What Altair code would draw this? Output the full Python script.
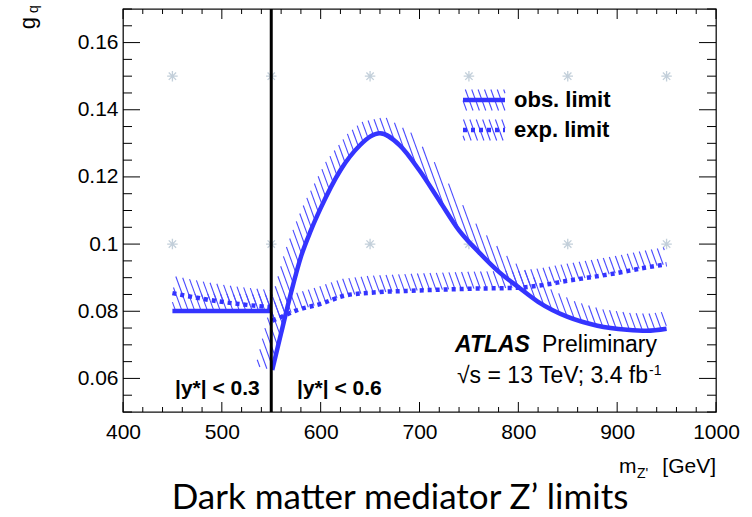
import numpy as np
import pandas as pd
import altair as alt

# ---------------- data ----------------
obs_a_mass = [450, 550]
obs_a_gq = [0.0801, 0.0801]
obs_b_mass = [551, 560, 570, 580, 590, 600, 620, 640, 650, 660, 680, 700, 720, 740,
              760, 780, 800, 820, 850, 880, 910, 930, 950]
obs_b_gq = [0.0625, 0.0735, 0.0855, 0.0962, 0.1040, 0.1107, 0.1220, 0.1295, 0.1320,
            0.1330, 0.1294, 0.1219, 0.1130, 0.1041, 0.0976, 0.0918, 0.0872, 0.0828,
            0.0783, 0.0757, 0.0745, 0.0742, 0.0748]
exp_a_mass = [450, 475, 500, 525, 550]
exp_a_gq = [0.0854, 0.0840, 0.0828, 0.0819, 0.0812]
exp_b_mass = [551, 560, 575, 600, 625, 650, 700, 750, 800, 825, 850, 875, 900, 925, 950]
exp_b_gq = [0.0772, 0.0783, 0.0802, 0.0822, 0.0847, 0.0855, 0.0862, 0.0867, 0.0870,
            0.0878, 0.0891, 0.0902, 0.0914, 0.0928, 0.0940]
grid_mass = [450, 550, 650, 750, 850, 950]
grid_gq = [0.15, 0.10]
boundary_mass = [550]
x_major = [400, 500, 600, 700, 800, 900, 1000]
x_minor = [v for v in range(400, 1001, 20) if v % 100]
y_major = [0.06, 0.08, 0.10, 0.12, 0.14, 0.16]
y_minor = [round(0.05 + 0.005 * i, 3) for i in range(25) if i % 4 != 2]

X_DOM = [400, 1000]
Y_DOM = [0.05, 0.17]

# ---------------- layout ----------------
W, H = 593, 403
PAD = {"left": 123, "top": 9, "right": 752 - 123 - W, "bottom": 517 - 9 - H}
BLUE = "#3434ff"
HATCH = "#4a4aff"
FONT = "Liberation Sans"


def px_from_data(m, g):
    X = (np.asarray(m, float) - X_DOM[0]) / (X_DOM[1] - X_DOM[0]) * W
    Y = (np.asarray(g, float) - Y_DOM[0]) / (Y_DOM[1] - Y_DOM[0]) * H
    return X, Y


def data_from_px(X, Y):
    m = X_DOM[0] + np.asarray(X) / W * (X_DOM[1] - X_DOM[0])
    g = Y_DOM[0] + np.asarray(Y) / H * (Y_DOM[1] - Y_DOM[0])
    return m, g


def hatch_px(X, Y, width=17.0, spacing=6.0, angle=110.0, centered=False):
    """ROOT-like exclusion hatching: parallel lines clipped to a band on the
    left-hand side of the curve (pixel space, y pointing up)."""
    P = np.column_stack([X, Y]).astype(float)
    T = np.gradient(P, axis=0)
    T /= np.linalg.norm(T, axis=1, keepdims=True)
    N = np.column_stack([-T[:, 1], T[:, 0]])
    if centered:
        inner, outer = P - N * width / 2, P + N * width / 2
    else:
        inner, outer = P, P + N * width
    poly = np.vstack([inner, outer[::-1]])
    a = np.radians(angle)
    d = np.array([np.cos(a), np.sin(a)])
    n = np.array([-np.sin(a), np.cos(a)])
    proj = poly @ n
    edges = list(zip(poly, np.roll(poly, -1, axis=0)))
    segs = []
    for c in np.arange(np.floor(proj.min() / spacing) * spacing, proj.max() + spacing, spacing):
        us = []
        for p1, p2 in edges:
            s1, s2 = p1 @ n - c, p2 @ n - c
            if (s1 < 0) != (s2 < 0):
                t = s1 / (s1 - s2)
                q = p1 + t * (p2 - p1)
                us.append(q @ d)
        us.sort()
        for i in range(0, len(us) - 1, 2):
            q1 = c * n + us[i] * d
            q2 = c * n + us[i + 1] * d
            segs.append((q1[0], q1[1], q2[0], q2[1]))
    return segs


def hatch_rows(segs, name):
    rows = []
    for x1, y1, x2, y2 in segs:
        m1, g1 = data_from_px(x1, y1)
        m2, g2 = data_from_px(x2, y2)
        rows.append({"m": float(m1), "g": float(g1), "m2": float(m2), "g2": float(g2), "band": name})
    return rows


rows = []
for name, ms, gs in [("obsA", obs_a_mass, obs_a_gq), ("obsB", obs_b_mass, obs_b_gq),
                     ("expA", exp_a_mass, exp_a_gq), ("expB", exp_b_mass, exp_b_gq)]:
    X, Y = px_from_data(ms, gs)
    rows += hatch_rows(hatch_px(X, Y), name)

# legend symbols (pixel positions inside plot area, y measured from top)
LEG_X0, LEG_X1 = 340, 382
LEG_Y_OBS, LEG_Y_EXP = 91, 121
for name, ly in [("legObs", LEG_Y_OBS), ("legExp", LEG_Y_EXP)]:
    rows += hatch_rows(hatch_px(np.array([LEG_X0, LEG_X1]), np.array([H - ly, H - ly]),
                                width=21, centered=True), name)
hatch_df = pd.DataFrame(rows)

obs_df = pd.DataFrame({
    "m": obs_a_mass + obs_b_mass,
    "g": obs_a_gq + obs_b_gq,
    "seg": ["A"] * len(obs_a_mass) + ["B"] * len(obs_b_mass),
})
exp_df = pd.DataFrame({
    "m": exp_a_mass + exp_b_mass,
    "g": exp_a_gq + exp_b_gq,
    "seg": ["A"] * len(exp_a_mass) + ["B"] * len(exp_b_mass),
})
grid_df = pd.DataFrame([{"m": m, "g": g} for g in grid_gq for m in grid_mass])
bound_df = pd.DataFrame({"m": boundary_mass})

xs = alt.Scale(domain=X_DOM, nice=False, zero=False)
ys = alt.Scale(domain=Y_DOM, nice=False, zero=False)

AX_X = alt.Axis(orient="bottom", values=x_major, ticks=False, domain=False, grid=False,
                labelFont=FONT, labelFontSize=21, labelColor="black", labelPadding=9,
                labelFlush=False, labelOverlap=False, format="d", title=None)
AX_Y = alt.Axis(orient="left", values=y_major, ticks=False, domain=False, grid=False,
                labelFont=FONT, labelFontSize=21, labelColor="black", labelPadding=5,
                labelFlush=False, labelOverlap=False,
                labelExpr="format(datum.value, '.2~f')", title=None)


def X(field):
    return alt.X(field, scale=xs, axis=AX_X)


def Y(field):
    return alt.Y(field, scale=ys, axis=AX_Y)


star_path = "M-1,0L1,0M0,-1L0,1M-0.7,-0.7L0.7,0.7M-0.7,0.7L0.7,-0.7"
stars = alt.Chart(grid_df).mark_point(shape=star_path, filled=False, color="#aabccb",
                                      strokeWidth=1.3, size=110).encode(
    x=X("m:Q"), y=Y("g:Q"))

hatch = alt.Chart(hatch_df).mark_rule(color=HATCH, strokeWidth=1.1, clip=True).encode(
    x=X("m:Q"), y=Y("g:Q"), x2="m2:Q", y2="g2:Q")

obs_line = alt.Chart(obs_df).mark_line(color=BLUE, strokeWidth=4.5, interpolate="monotone",
                                       strokeCap="butt").encode(
    x=X("m:Q"), y=Y("g:Q"), detail="seg:N")
exp_line = alt.Chart(exp_df).mark_line(color=BLUE, strokeWidth=4.5, interpolate="monotone",
                                       strokeDash=[4, 4], strokeCap="butt").encode(
    x=X("m:Q"), y=Y("g:Q"), detail="seg:N")
boundary = alt.Chart(bound_df).mark_rule(color="black", strokeWidth=3).encode(x=X("m:Q"))


# inward-pointing ROOT style ticks on all four sides
def xticks(values, y0, y1):
    return alt.Chart(pd.DataFrame({"m": values})).mark_rule(color="black", strokeWidth=1).encode(
        x=X("m:Q"), y=alt.value(y0), y2=alt.value(y1))


def yticks(values, x0, x1):
    return alt.Chart(pd.DataFrame({"g": values})).mark_rule(color="black", strokeWidth=1).encode(
        y=Y("g:Q"), x=alt.value(x0), x2=alt.value(x1))


ticks = [
    xticks(x_major, H, H - 10), xticks(x_minor, H, H - 5),
    xticks(x_major, 0, 10), xticks(x_minor, 0, 5),
    yticks(y_major, 0, 17), yticks(y_minor, 0, 9),
    yticks(y_major, W, W - 17), yticks(y_minor, W, W - 9),
]

one = pd.DataFrame({"a": [0]})


def txt(text, x, y, size=21, weight="normal", style="normal", align="left", font=FONT,
        angle=0, baseline="alphabetic"):
    return alt.Chart(one).mark_text(text=text, fontSize=size, fontWeight=weight, fontStyle=style,
                                    align=align, font=font, angle=angle, baseline=baseline,
                                    color="black").encode(x=alt.value(x), y=alt.value(y))


leg_obs = alt.Chart(one).mark_rule(color=BLUE, strokeWidth=4.5).encode(
    x=alt.value(LEG_X0), x2=alt.value(LEG_X1), y=alt.value(LEG_Y_OBS))
leg_exp = alt.Chart(one).mark_rule(color=BLUE, strokeWidth=4.5, strokeDash=[4, 4]).encode(
    x=alt.value(LEG_X0), x2=alt.value(LEG_X1), y=alt.value(LEG_Y_EXP))

texts = [
    txt("obs. limit", 391, 98, size=22, weight="bold"),
    txt("exp. limit", 391, 128, size=22, weight="bold"),
    txt("ATLAS", 332, 343, size=23, weight="bold", style="italic"),
    txt("Preliminary", 419, 343, size=23),
    txt("\u221as = 13 TeV; 3.4 fb", 525, 374, size=23, align="right"),
    txt("-1", 526, 366, size=14),
    txt("|y*| < 0.3", 52, 386, weight="bold"),
    txt("|y*| < 0.6", 174, 386, weight="bold"),
    txt("m", 496, 464, size=21),
    txt("Z'", 514, 469, size=14),
    txt("[GeV]", 593, 464, size=21, align="right"),
    txt("g", -95, 14, size=22, angle=270, align="center", baseline="middle"),
    txt("q", -89, 0, size=14, angle=270, align="center", baseline="middle"),
    txt("Dark matter mediator Z\u2019 limits", 277, 500, size=35, font="Lato", align="center"),
]

chart = alt.layer(
    stars, hatch, obs_line, exp_line, boundary, *ticks, leg_obs, leg_exp, *texts
).properties(
    width=W, height=H, padding=PAD, autosize=alt.AutoSizeParams(type="none"),
    background="white",
).configure_view(stroke="#111", strokeWidth=1.3)

chart.save("out.html", embed_options={"renderer": "svg", "actions": False})
